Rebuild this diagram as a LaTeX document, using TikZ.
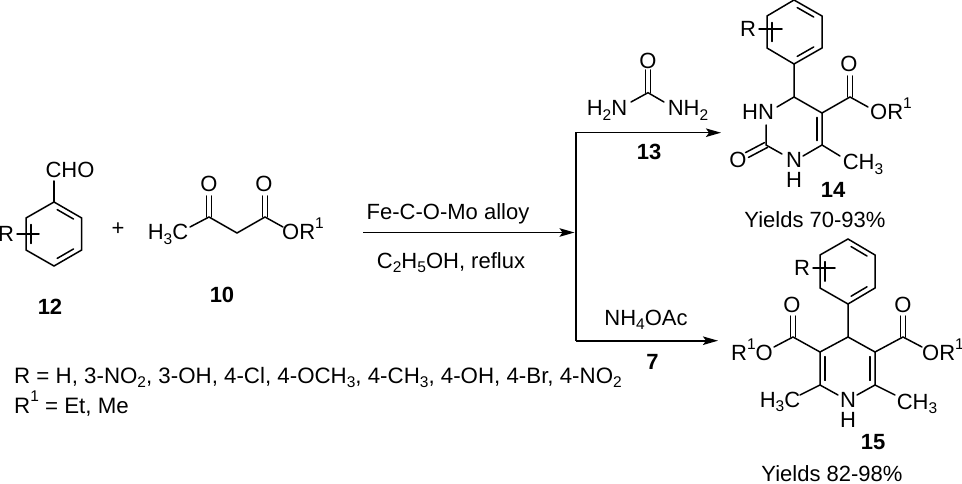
\documentclass[tikz,border=0pt]{standalone}
\usepackage{fontspec}
\setmainfont{Liberation Sans}
\usetikzlibrary{arrows.meta,calc}
\newcommand\lo[1]{\raisebox{-0.22em}{\fontsize{15.5}{15.5}\selectfont #1}}
\newcommand\hi[1]{\raisebox{0.5em}{\fontsize{15.5}{15.5}\selectfont #1}}
\newcommand\ringdbl[3]{\draw[bond] ($($(#1)!.14!(#2)$)!.18!(#3)$) -- ($($(#2)!.14!(#1)$)!.18!(#3)$);}
\newcommand\codbl[2]{\draw[bond] ($(#1)+(-2.6,0)$) -- ($(#2)+(-2.6,0)$); \draw[bond] ($(#1)+(2.6,0)$) -- ($(#2)+(2.6,0)$);}
\tikzset{
  bond/.style={line width=1.5pt,line cap=round,draw=black},
  rxn/.style={line width=1.6pt,draw=black,-{Stealth[length=15pt,width=8.5pt,inset=3pt]}},
  txt/.style={anchor=base,inner sep=0pt,font=\fontsize{22}{24}\selectfont,text=black},
  num/.style={txt,font=\fontsize{22}{24}\selectfont\bfseries},
  longtxt/.style={anchor=base west,inner sep=0pt,font=\fontsize{22.3}{24}\selectfont,text=black},
}
\begin{document}
\begin{tikzpicture}[x=1pt,y=-1pt]
\useasboundingbox (0,0) rectangle (962,484);
% ---- 12
\foreach \n/\p in {a1/{54,202},a2/{81.7,218},a3/{81.7,250},a4/{54,266},a5/{26,250},a6/{26,218},ac/{54,234},aS/{54,181},aR1/{17,234},aR2/{39,234}}{\coordinate (\n) at (\p);}
\draw[bond] (a1)--(a2)--(a3)--(a4)--(a5)--(a6)--cycle;
\ringdbl{a1}{a2}{ac}\ringdbl{a3}{a4}{ac}\ringdbl{a5}{a6}{ac}
\node[txt] (cho) at (70,178) {CHO};
\draw[bond] (a1)--(aS);
\node[txt] (r12) at (6,241) {R};
\draw[bond] (aR1)--(aR2);
\node[num] (l12) at (50,314) {12};
\node[txt] (plus) at (118,236) {+};
% ---- 10
\foreach \n/\p in {b0/{190,227},b1/{209,217},b2/{237,233},b3/{265,217},b4/{283,227},bO1/{209,196},bO2/{265,196}}{\coordinate (\n) at (\p);}
\node[txt] (h3c10) at (168,240) {H\lo{3}C};
\node[txt] (o101) at (209,192) {O};
\node[txt] (o102) at (264,192) {O};
\node[txt] (or10) at (303,240) {OR\hi{1}};
\draw[bond] (b0)--(b1)--(b2)--(b3)--(b4);
\codbl{bO1}{b1}\codbl{bO2}{b3}
\node[num] (l10) at (222,302) {10};
% ---- reaction arrows
\coordinate (st) at (363,232.5);
\coordinate (jn) at (574.5,232.5);
\coordinate (vt) at (576,132.7);
\coordinate (vb) at (576,340.7);
\coordinate (e1) at (721,132.7);
\coordinate (e2) at (718,340.7);
\draw[rxn] (st)--(jn);
\draw[rxn] (vb)--(vt)--(e1);
\draw[rxn] (vb)--(e2);
\node[txt] (fe) at (448,220) {Fe-C-O-Mo alloy};
\node[txt] (etoh) at (451,268) {C\lo{2}H\lo{5}OH, reflux};
% ---- urea 13
\foreach \n/\p in {u0/{648,92.7},uO/{648,70},uL/{631,102},uR/{664,102}}{\coordinate (\n) at (\p);}
\node[txt] (uo) at (648,69) {O};
\node[txt] (h2n) at (607,116) {H\lo{2}N};
\node[txt] (nh2) at (688,116) {NH\lo{2}};
\draw[bond] (uL)--(u0)--(uR);
\codbl{uO}{u0}
\node[num] (l13) at (649,160) {13};
\node[txt] (nh4) at (646,325) {NH\lo{4}OAc};
\node[num] (l7) at (652.5,369) {7};
% ---- 14
\foreach \n/\p in {c1/{794,0},c2/{822,16},c3/{822,48},c4/{794,64},c5/{767,48},c6/{767,16},cc/{794,32},cR1/{759,29},cR2/{782,29}}{\coordinate (\n) at (\p);}
\draw[bond] (c1)--(c2)--(c3)--(c4)--(c5)--(c6)--cycle;
\ringdbl{c1}{c2}{cc}\ringdbl{c3}{c4}{cc}\ringdbl{c5}{c6}{cc}
\draw[bond] (cR1)--(cR2);
\node[txt] (r14) at (748,37) {R};
\foreach \n/\p in {d4/{794,97},d5/{822,113},d6/{822,145},d2/{766,145},dN1/{803,156},dN1b/{782,154},dN3a/{777,107},dN3b/{766,125},dMe/{840,156},dC/{850,97},dOa/{850,76},dOb/{868,107},dOd/{747,155}}{\coordinate (\n) at (\p);}
\draw[bond] (c4)--(d4)--(d5)--(d6)--(dN1);
\draw[bond] (d4)--(dN3a);
\draw[bond] (dN3b)--(d2)--(dN1b);
\draw[bond] (d6)--(dMe);
\draw[bond] (d5)--(dC)--(dOb);
\codbl{dOa}{dC}
\draw[bond] ($(d5)!.14!(d6)+(-5.2,0)$)--($(d6)!.14!(d5)+(-5.2,0)$);
\draw[bond] ($(d2)+(1.5,2.4)$)--($(dOd)+(1.5,2.4)$);
\draw[bond] ($(d2)+(-1.5,-2.4)$)--($(dOd)+(-1.5,-2.4)$);
\node[txt] (hn14) at (758,120) {HN};
\node[txt] (o14) at (738,168) {O};
\node[txt] (n14) at (794,168) {N};
\node[txt] (h14) at (794,188) {H};
\node[txt] (ch14) at (863,170) {CH\lo{3}};
\node[txt] (oc14) at (849,72) {O};
\node[txt] (or14) at (891,120) {OR\hi{1}};
\node[num] (l14) at (833,198) {14};
\node[txt] (y14) at (815,228) {Yields 70-93\%};
% ---- 15
\foreach \n/\p in {e1a/{848,239},e2a/{875,255},e3a/{875,288},e4a/{848,304},e5a/{820,288},e6a/{820,255},ec/{848,271},eR1/{813,268},eR2/{835,268}}{\coordinate (\n) at (\p);}
\draw[bond] (e1a)--(e2a)--(e3a)--(e4a)--(e5a)--(e6a)--cycle;
\ringdbl{e1a}{e2a}{ec}\ringdbl{e3a}{e4a}{ec}\ringdbl{e5a}{e6a}{ec}
\draw[bond] (eR1)--(eR2);
\node[txt] (r15) at (802,275) {R};
\foreach \n/\p in {f4/{848,337},f3/{820,352},f2/{820,385},f5/{875,352},f6/{875,385},fNl/{838,395},fNr/{857,395},fMl/{800,395},fMr/{895,395},fCl/{793,337},fCr/{903,337},fOl/{793,316},fOr/{903,316},fEl/{774,347},fEr/{922,347}}{\coordinate (\n) at (\p);}
\draw[bond] (e4a)--(f4)--(f3)--(f2)--(fNl);
\draw[bond] (f4)--(f5)--(f6)--(fNr);
\draw[bond] (f2)--(fMl);
\draw[bond] (f6)--(fMr);
\draw[bond] (f3)--(fCl)--(fEl);
\draw[bond] (f5)--(fCr)--(fEr);
\codbl{fOl}{fCl}\codbl{fOr}{fCr}
\draw[bond] ($(f3)!.14!(f2)+(5.2,0)$)--($(f2)!.14!(f3)+(5.2,0)$);
\draw[bond] ($(f5)!.14!(f6)+(-5.2,0)$)--($(f6)!.14!(f5)+(-5.2,0)$);
\node[txt] (ol15) at (792,312) {O};
\node[txt] (or15) at (903,312) {O};
\node[txt] (ro15l) at (752,360) {R\hi{1}O};
\node[txt] (ro15r) at (943,360) {OR\hi{1}};
\node[txt] (h3c15) at (780,407) {H\lo{3}C};
\node[txt] (n15) at (848,407) {N};
\node[txt] (h15) at (848,427) {H};
\node[txt] (ch15) at (917,409) {CH\lo{3}};
\node[num] (l15) at (873,449) {15};
\node[txt] (y15) at (832,481) {Yields 82-98\%};
% ---- substituents
\node[longtxt] (subs) at (14,383) {R = H, 3-NO\lo{2}, 3-OH, 4-Cl, 4-OCH\lo{3}, 4-CH\lo{3}, 4-OH, 4-Br, 4-NO\lo{2}};
\node[longtxt] (subs2) at (14,413) {R\hi{1} = Et, Me};
\end{tikzpicture}
\end{document}
